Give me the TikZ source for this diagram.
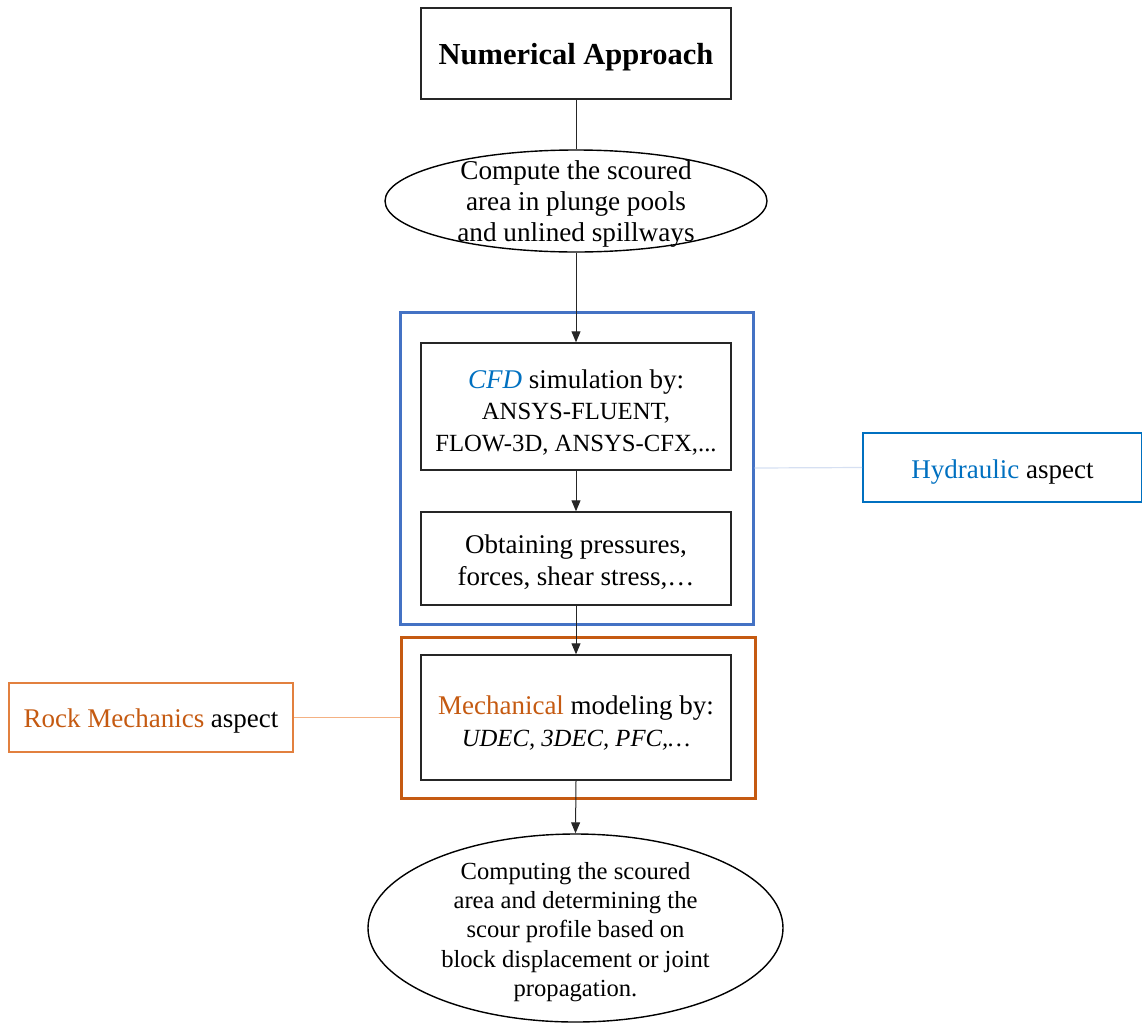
\documentclass[tikz,border=0pt]{standalone}
\usepackage{fontspec}
\setmainfont{Liberation Serif}
\usetikzlibrary{shapes.geometric,arrows.meta}
\definecolor{frameblue}{HTML}{4472C4}
\definecolor{textblue}{HTML}{0070C0}
\definecolor{frameorange}{HTML}{C55A11}
\definecolor{lightorange}{HTML}{E2803F}
\definecolor{linkblue}{HTML}{D6E0F2}
\definecolor{linkorange}{HTML}{F4B183}
\tikzset{
  x=1pt, y=-1pt,
  stepbox/.style={draw=black!85, line width=1.4pt, rectangle, inner sep=0pt},
  oval/.style={draw=black, line width=1.4pt, ellipse, inner sep=0pt},
  caption/.style={inner sep=0pt, align=center, font=\fontsize{27}{31.5}\selectfont},
  groupframe/.style={rectangle, line width=3pt, inner sep=0pt},
  tagbox/.style={rectangle, line width=1.8pt, inner sep=0pt},
  flow/.style={line width=1pt, draw=black!85, -{Triangle[width=9pt,length=11pt]}},
  plainlink/.style={line width=1pt, draw=black!85},
}
\begin{document}
\begin{tikzpicture}
\useasboundingbox (0,0) rectangle (1142,1023);

% group frames
\node[groupframe, draw=frameblue, minimum width=353pt, minimum height=312pt] (hyd) at (576.5,468) {};
\node[groupframe, draw=frameorange, minimum width=354pt, minimum height=161pt] (mech) at (578,717.5) {};

% main chain: outlines
\node[stepbox, minimum width=310pt, minimum height=91pt] (top) at (576,53.5) {};
\node[oval, minimum width=382pt, minimum height=102pt] (goal) at (576,201) {};
\node[stepbox, minimum width=310pt, minimum height=127pt] (cfd) at (576,406.5) {};
\node[stepbox, minimum width=310pt, minimum height=93pt] (press) at (576,558.5) {};
\node[stepbox, minimum width=310pt, minimum height=125pt] (model) at (576,717.5) {};
\node[oval, minimum width=415pt, minimum height=188pt] (result) at (575.5,928) {};

% main chain: texts
\node[caption, font=\fontsize{30.5}{34}\selectfont\bfseries] (top-text) at ([yshift=-4pt]top.center) {Numerical Approach};
\node[caption, font=\fontsize{27.2}{31}\selectfont] (goal-text) at ([yshift=-2.5pt]goal.center)
  {Compute the scoured\\area in plunge pools\\and unlined spillways};
\node[caption, font=\fontsize{24.7}{31.5}\selectfont] (cfd-text) at ([yshift=-6pt]cfd.center)
  {{\fontsize{27}{31.5}\selectfont\textcolor{textblue}{\textit{CFD}} simulation by:}\\ANSYS-FLUENT,\\FLOW-3D, ANSYS-CFX,...};
\node[caption] (press-text) at ([yshift=-3.5pt]press.center)
  {Obtaining pressures,\\forces, shear stress,\ldots};
\node[caption, font=\fontsize{27}{32}\selectfont] (model-text) at ([yshift=-5.5pt]model.center)
  {\textcolor{frameorange}{Mechanical} modeling by:\\{\fontsize{24.7}{32}\selectfont\itshape UDEC, 3DEC, PFC,\ldots}};
\node[caption, font=\fontsize{24.6}{29.2}\selectfont] (result-text) at ([yshift=-4pt]result.center)
  {Computing the scoured\\area and determining the\\scour profile based on\\block displacement or joint\\propagation.};

% side tags
\node[tagbox, draw=textblue, minimum width=279pt, minimum height=69pt] (hydtag) at (1002.5,467.5) {};
\node[caption] (hydtag-text) at ([yshift=-4.5pt]hydtag.center) {\textcolor{textblue}{Hydraulic} aspect};
\node[tagbox, draw=lightorange, minimum width=284pt, minimum height=69pt] (rocktag) at (151,717.5) {};
\node[caption] (rocktag-text) at ([yshift=-3pt]rocktag.center) {\textcolor{frameorange}{Rock Mechanics} aspect};

% connectors
\draw[plainlink] (top.south) -- (goal.north);
\draw[flow] (goal.south) -- (cfd.north);
\draw[flow] (cfd.south) -- (press.north);
\draw[flow] (press.south) -- (model.north);
\draw[flow] (model.south) -- (result.north);
\draw[line width=1.2pt, draw=linkblue] (hyd.east) -- (hydtag.west);
\draw[line width=1.2pt, draw=linkorange] (rocktag.east) -- (mech.west);
\end{tikzpicture}
\end{document}
